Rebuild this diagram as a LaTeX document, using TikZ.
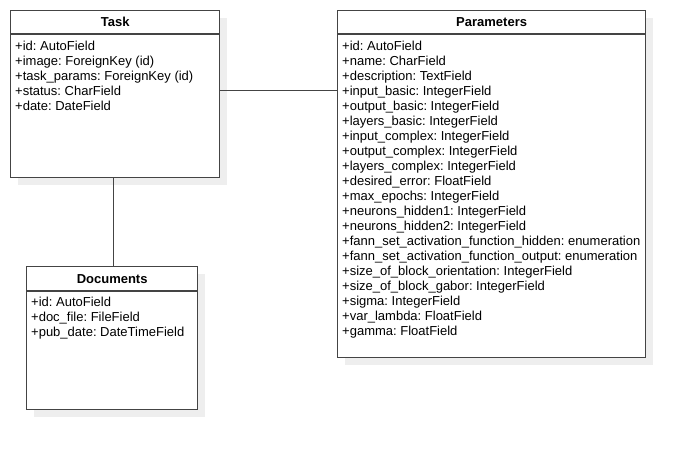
\documentclass[tikz,border=0pt]{standalone}
\usepackage{fontspec}
\setmainfont{Liberation Sans}
\usetikzlibrary{shadows}
\definecolor{boxc}{HTML}{444444}
\definecolor{shadowc}{HTML}{EEEEEE}
\begin{document}
\frenchspacing
\begin{tikzpicture}[x=1pt,y=-1pt,
  classbox/.style={draw=boxc, line width=1.3pt, fill=white, inner sep=0pt, anchor=north west,
    drop shadow={shadow xshift=7pt, shadow yshift=-7pt, fill=shadowc, opacity=1}},
  headline/.style={draw=boxc, line width=1.3pt},
  classtitle/.style={font=\fontsize{13}{15}\selectfont\bfseries, inner sep=0pt, anchor=base},
  classbody/.style={font=\fontsize{13}{15}\selectfont\frenchspacing, inner sep=0pt, anchor=north west, align=left},
  link/.style={draw=boxc, line width=1pt}]
\useasboundingbox (0,0) rectangle (685,450);
% Task
\node[classbox, minimum width=209pt, minimum height=167pt] (task) at (10,10) {};
\draw[headline] ([yshift=-24pt]task.north west) -- ([yshift=-24pt]task.north east);
\node[classtitle] (tasktitle) at ([yshift=-16.7pt]task.north) {Task};
\node[classbody] (taskbody) at ([shift={(5pt,-30.5pt)}]task.north west)
  {+id: AutoField\\+image: ForeignKey (id)\\+task\_params: ForeignKey (id)\\+status: CharField\\+date: DateField};
% Parameters
\node[classbox, minimum width=308pt, minimum height=347pt] (params) at (337,10) {};
\draw[headline] ([yshift=-24pt]params.north west) -- ([yshift=-24pt]params.north east);
\node[classtitle] (paramstitle) at ([yshift=-16.7pt]params.north) {Parameters};
\node[classbody] (paramsbody) at ([shift={(5pt,-30.5pt)}]params.north west)
  {+id: AutoField\\+name: CharField\\+description: TextField\\+input\_basic: IntegerField\\
   +output\_basic: IntegerField\\+layers\_basic: IntegerField\\+input\_complex: IntegerField\\
   +output\_complex: IntegerField\\+layers\_complex: IntegerField\\+desired\_error: FloatField\\
   +max\_epochs: IntegerField\\+neurons\_hidden1: IntegerField\\+neurons\_hidden2: IntegerField\\
   +fann\_set\_activation\_function\_hidden: enumeration\\
   +fann\_set\_activation\_function\_output: enumeration\\
   +size\_of\_block\_orientation: IntegerField\\+size\_of\_block\_gabor: IntegerField\\
   +sigma: IntegerField\\+var\_lambda: FloatField\\+gamma: FloatField};
% Documents
\node[classbox, minimum width=171pt, minimum height=143pt] (docs) at (26,266) {};
\draw[headline] ([yshift=-25pt]docs.north west) -- ([yshift=-25pt]docs.north east);
\node[classtitle] (docstitle) at ([yshift=-17pt]docs.north) {Documents};
\node[classbody] (docsbody) at ([shift={(5pt,-30.5pt)}]docs.north west)
  {+id: AutoField\\+doc\_file: FileField\\+pub\_date: DateTimeField};
% connectors
\draw[link] ([yshift=3.5pt]task.east) -- ([yshift=3.5pt]task.east -| params.west);
\draw[link] ([xshift=-1.5pt]task.south) -- ([xshift=-1.5pt]task.south |- docs.north);
\end{tikzpicture}
\end{document}
